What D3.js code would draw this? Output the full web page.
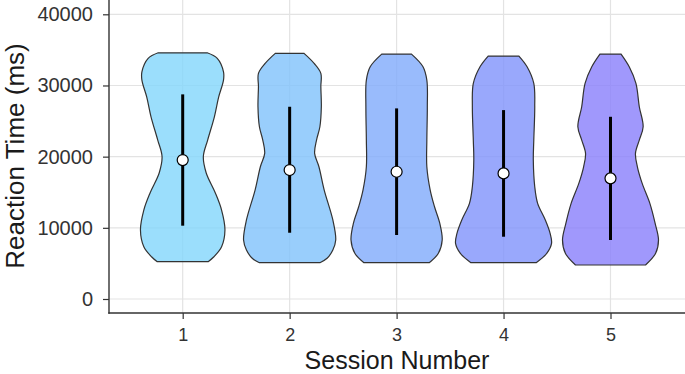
<!DOCTYPE html>
<html>
<head>
<meta charset="utf-8">
<script src="https://cdn.jsdelivr.net/npm/d3@7"></script>
<style>
  body { margin: 0; background: #fff; }
  svg { display: block; font-family: "Liberation Sans", Arial, sans-serif; }
</style>
</head>
<body>
<div id="violin-placeholder"></div>
<script>
'use strict'

// sessions on the x axis and y tick values
const sessions = [1, 2, 3, 4, 5]
const yTicks = [0, 10000, 20000, 30000, 40000]

// violin outlines: [reaction time (ms), relative width]
const session1 = [[34590, 0.51], [33800, 0.72], [31900, 0.85], [30760, 0.85], [28400, 0.75], [25600, 0.66],
    [22330, 0.52], [20000, 0.43], [17700, 0.49], [14900, 0.68], [12500, 0.81], [9700, 0.88],
    [7350, 0.81], [5940, 0.65], [5240, 0.53]]
const session2 = [[34510, 0.30], [33100, 0.51], [31700, 0.65], [29820, 0.65], [27010, 0.66], [24200, 0.63],
    [22330, 0.56], [20460, 0.52], [18580, 0.61], [15310, 0.72], [11100, 0.90], [8290, 0.96],
    [6880, 0.90], [5720, 0.78], [5100, 0.63]]
const session3 = [[34410, 0.31], [32630, 0.55], [30760, 0.63], [27010, 0.64], [22330, 0.63], [18580, 0.63],
    [15310, 0.70], [12960, 0.79], [10630, 0.90], [8290, 0.95], [6420, 0.87], [5100, 0.68]]
const session4 = [[34130, 0.32], [32630, 0.49], [30290, 0.63], [27010, 0.65], [22330, 0.63], [19520, 0.62],
    [15770, 0.65], [13440, 0.71], [11100, 0.87], [9230, 0.97], [7820, 1.00], [6420, 0.90], [5100, 0.68]]
const session5 = [[34410, 0.22], [32630, 0.39], [30290, 0.53], [27010, 0.60], [24200, 0.68], [22330, 0.60],
    [20460, 0.52], [18580, 0.56], [16240, 0.66], [13440, 0.82], [10630, 0.93], [8290, 1.00],
    [6420, 0.94], [4780, 0.73]]
const violins = [session1, session2, session3, session4, session5]

// median point and the vertical bar through it
const medians = [19520, 18120, 17880, 17650, 16950]
const barLow = [10300, 9310, 8990, 8750, 8290]
const barHigh = [28750, 27010, 26780, 26540, 25600]

const fills = ["#82D6FB", "#7FC2FB", "#7FAAFB", "#7F92FB", "#887EFB"]

////////////////////////////////////
//////////// svg setup /////////////
////////////////////////////////////

const svgWidth = 685
const svgHeight = 374
const panel = {left: 109, right: 685, top: 0, bottom: 313}

const svg = d3.select('#violin-placeholder').append('svg')
    .attr('width', svgWidth)
    .attr('height', svgHeight)

////////////////////////////////////
//////////////scales////////////////
////////////////////////////////////

const xScale = d3.scaleLinear()
    .domain([1, 5])
    .range([182.7, 610.5])

const yScale = d3.scaleLinear()
    .domain([0, 40000])
    .range([299, 14.3])

const halfWidth = d3.scaleLinear()
    .domain([0, 1])
    .range([0, 48])

// grid
svg.append('g').selectAll('line')
    .data(yTicks)
    .join('line')
    .attr('x1', panel.left).attr('x2', panel.right)
    .attr('y1', d => yScale(d)).attr('y2', d => yScale(d))
    .attr('stroke', '#e3e3e3').attr('stroke-width', 1.2)

svg.append('g').selectAll('line')
    .data(sessions)
    .join('line')
    .attr('x1', d => xScale(d)).attr('x2', d => xScale(d))
    .attr('y1', panel.top).attr('y2', panel.bottom)
    .attr('stroke', '#e3e3e3').attr('stroke-width', 1.2)

// violins
const area = d3.area()
    .curve(d3.curveCatmullRom)

violins.forEach((v, i) => {
    const cx = xScale(sessions[i])
    area.y(d => yScale(d[0]))
        .x0(d => cx - halfWidth(d[1]))
        .x1(d => cx + halfWidth(d[1]))
    svg.append('path')
        .datum(v)
        .attr('d', area)
        .attr('fill', fills[i])
        .attr('fill-opacity', 0.8)
        .attr('stroke', '#333')
        .attr('stroke-width', 1.2)
})

// bars + median points
svg.append('g').selectAll('line')
    .data(sessions)
    .join('line')
    .attr('x1', d => xScale(d)).attr('x2', d => xScale(d))
    .attr('y1', (d, i) => yScale(barLow[i]))
    .attr('y2', (d, i) => yScale(barHigh[i]))
    .attr('stroke', '#000').attr('stroke-width', 3)

svg.append('g').selectAll('circle')
    .data(sessions)
    .join('circle')
    .attr('cx', d => xScale(d))
    .attr('cy', (d, i) => yScale(medians[i]))
    .attr('r', 5.5)
    .attr('fill', '#fff')
    .attr('stroke', '#000')
    .attr('stroke-width', 1.2)

// axes
const yAxis = svg.append('g')
    .attr('transform', `translate(${panel.left},0)`)
    .call(d3.axisLeft(yScale).tickValues(yTicks).tickFormat(d3.format('d')).tickSize(6).tickPadding(10))
yAxis.select('.domain').remove()
yAxis.selectAll('.tick line').attr('stroke', '#333').attr('stroke-width', 1.2)
yAxis.selectAll('.tick text').attr('fill', '#333').style('font-size', '20px')

const xAxis = svg.append('g')
    .attr('transform', `translate(0,${panel.bottom})`)
    .call(d3.axisBottom(xScale).tickValues(sessions).tickFormat(d3.format('d')).tickSize(6).tickPadding(9))
xAxis.select('.domain').remove()
xAxis.selectAll('.tick line').attr('stroke', '#333').attr('stroke-width', 1.2)
xAxis.selectAll('.tick text').attr('fill', '#333').style('font-size', '18px')

svg.append('line')
    .attr('x1', panel.left).attr('x2', panel.left)
    .attr('y1', panel.top).attr('y2', panel.bottom + 0.7)
    .attr('stroke', '#333').attr('stroke-width', 1.4)
svg.append('line')
    .attr('x1', panel.left - 0.7).attr('x2', panel.right)
    .attr('y1', panel.bottom).attr('y2', panel.bottom)
    .attr('stroke', '#333').attr('stroke-width', 1.4)

// axis titles
svg.append('text')
    .attr('transform', 'translate(24,156) rotate(-90)')
    .attr('text-anchor', 'middle')
    .style('font-size', '26px')
    .attr('fill', '#1a1a1a')
    .text('Reaction Time (ms)')

svg.append('text')
    .attr('x', (panel.left + panel.right) / 2)
    .attr('y', 369)
    .attr('text-anchor', 'middle')
    .style('font-size', '25px')
    .attr('fill', '#1a1a1a')
    .text('Session Number')
</script>
</body>
</html>
